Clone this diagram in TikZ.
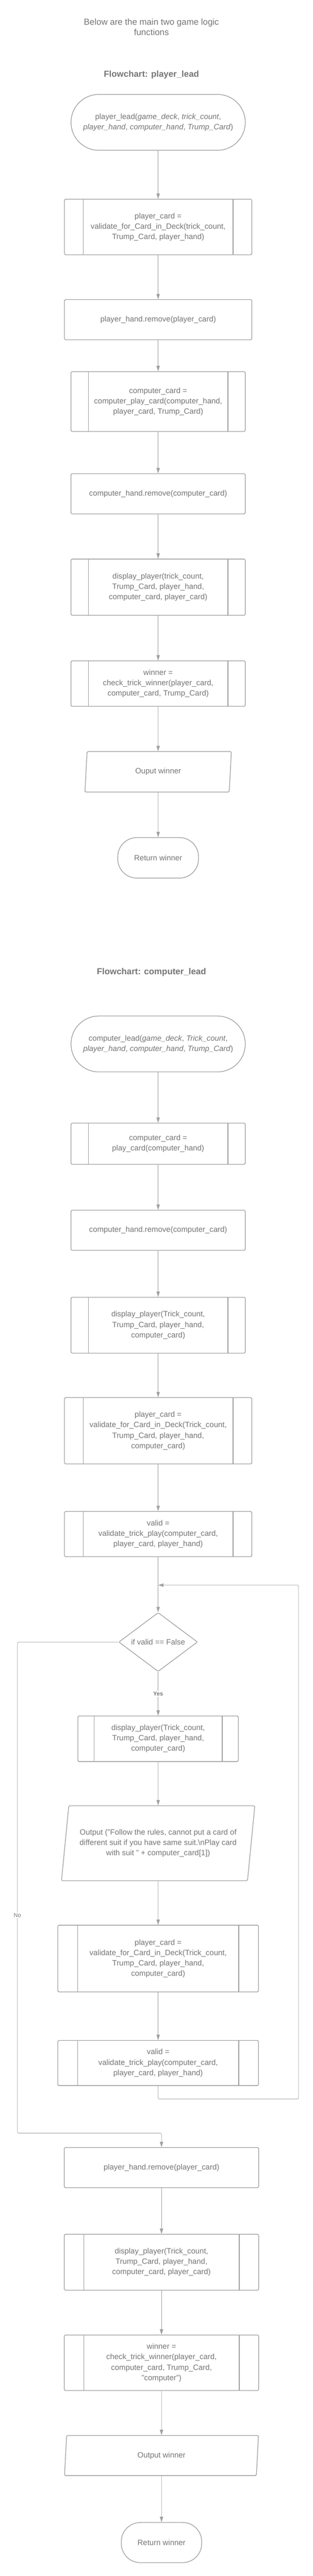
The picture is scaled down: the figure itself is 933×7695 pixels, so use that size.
\documentclass[tikz,border=0pt]{standalone}
\usepackage{fontspec}
\setmainfont{Liberation Sans}
\usepackage{xcolor}
\usetikzlibrary{shapes.geometric,arrows.meta}
\definecolor{linegray}{HTML}{A0A0A0}
\definecolor{textgray}{HTML}{757575}
\tikzset{
  shapebase/.style={draw=linegray, line width=2pt, text=textgray, fill=white, align=center,
    font=\fontsize{23}{31}\selectfont, inner sep=2pt},
  procbox/.style={shapebase, rounded corners=3pt, minimum width=520pt, minimum height=120pt},
  subproc/.style={procbox, path picture={
    \draw[draw=linegray, line width=2pt]
      ([xshift=#1]path picture bounding box.north west) -- ([xshift=#1]path picture bounding box.south west)
      ([xshift=-#1]path picture bounding box.north east) -- ([xshift=-#1]path picture bounding box.south east);}},
  subproc/.default=52pt,
  termbox/.style={shapebase, rounded corners=#1},
  iobox/.style={shapebase, trapezium, trapezium left angle=76, trapezium right angle=104,
    trapezium stretches body=true, rounded corners=3pt, inner xsep=0pt},
  decbox/.style={shapebase, diamond, aspect=1.33, rounded corners=3pt, inner sep=1pt,
    minimum width=235pt, minimum height=176pt},
  conn/.style={draw=linegray, line width=1.2pt, rounded corners=4pt, -{Triangle[length=16pt,width=10pt]}},
  titletext/.style={text=textgray, align=center, font=\fontsize{26}{31}\selectfont},
  heading/.style={text=textgray, font=\fontsize{26}{31}\selectfont\bfseries},
  lbl/.style={text=textgray, fill=white, inner sep=3pt, font=\fontsize{17}{20}\selectfont}
}
\begin{document}
\begin{tikzpicture}[x=1pt, y=-1pt]
    \useasboundingbox (0,0) rectangle (933,7695);
    \node[titletext] (intro) at (452,81) {Below are the main two game logic\\functions};
    \node[heading] (head1) at (452,224) {Flowchart: player\_lead};
    \node[termbox=83pt, minimum width=520pt, minimum height=167pt] (start1) at (472,365.5)
      {player\_lead(\textit{game\_deck}, \textit{trick\_count},\\\textit{player\_hand}, \textit{computer\_hand}, \textit{Trump\_Card})};
    \node[subproc=56pt, minimum width=559pt, minimum height=166pt] (pcard1) at (472,678)
      {player\_card =\\validate\_for\_Card\_in\_Deck(trick\_count,\\Trump\_Card, player\_hand)};
    \node[procbox, minimum width=559pt] (premove1) at (472,955) {player\_hand.remove(player\_card)};
    \node[subproc, minimum height=179pt] (ccard1) at (472,1199.5)
      {computer\_card =\\computer\_play\_card(computer\_hand,\\player\_card, Trump\_Card)};
    \node[procbox] (cremove1) at (472,1475) {computer\_hand.remove(computer\_card)};
    \node[subproc, minimum height=168pt] (disp1) at (472,1754)
      {display\_player(trick\_count,\\Trump\_Card, player\_hand,\\computer\_card, player\_card)};
    \node[subproc, minimum height=136pt] (win1) at (472,2042)
      {winner =\\check\_trick\_winner(player\_card,\\computer\_card, Trump\_Card)};
    \node[iobox, minimum width=437pt, minimum height=121pt] (out1) at (472,2305.5) {Ouput winner};
    \node[termbox=57pt, minimum width=241pt, minimum height=121pt] (ret1) at (472,2562.5) {Return winner};
    \draw[conn] (start1.south) -- (pcard1.north);
    \draw[conn] (pcard1.south) -- (premove1.north);
    \draw[conn] (premove1.south) -- (ccard1.north);
    \draw[conn] (ccard1.south) -- (cremove1.north);
    \draw[conn] (cremove1.south) -- (disp1.north);
    \draw[conn] (disp1.south) -- (win1.north);
    \draw[conn] (win1.south) -- (out1.north);
    \draw[conn] (out1.south) -- (ret1.north);
    \node[heading] (head2) at (452,2904) {Flowchart: computer\_lead};
    \node[termbox=83pt, minimum width=520pt, minimum height=167pt] (start2) at (472,3118.5)
      {computer\_lead(\textit{game\_deck}, \textit{Trick\_count},\\\textit{player\_hand}, \textit{computer\_hand}, \textit{Trump\_Card})};
    \node[subproc, minimum height=123pt] (ccard2) at (472,3416.5)
      {computer\_card =\\play\_card(computer\_hand)};
    \node[procbox] (cremove2) at (472,3675) {computer\_hand.remove(computer\_card)};
    \node[subproc, minimum height=167pt] (disp2) at (472,3958.5)
      {display\_player(Trick\_count,\\Trump\_Card, player\_hand,\\computer\_card)};
    \node[subproc=56pt, minimum width=559pt, minimum height=198pt] (pcard2) at (472,4274)
      {player\_card =\\validate\_for\_Card\_in\_Deck(Trick\_count,\\Trump\_Card, player\_hand,\\computer\_card)};
    \node[subproc=56pt, minimum width=559pt, minimum height=135pt] (valid1) at (472,4582.5)
      {valid =\\validate\_trick\_play(computer\_card,\\player\_card, player\_hand)};
    \node[decbox] (check) at (472,4905) {if valid == False};
    \node[subproc=48pt, minimum width=479pt, minimum height=136pt] (disp3) at (472,5194)
      {display\_player(Trick\_count,\\Trump\_Card, player\_hand,\\computer\_card)};
    \node[iobox, minimum width=577pt, minimum height=224pt, inner xsep=-12pt] (warn) at (472,5506)
      {Output ("Follow the rules, cannot put a card of\\different suit if you have same suit.\textbackslash nPlay card\\with suit " + computer\_card[1])};
    \node[subproc=59pt, minimum width=599pt, minimum height=199pt] (pcard3) at (472,5850.5)
      {player\_card =\\validate\_for\_Card\_in\_Deck(Trick\_count,\\Trump\_Card, player\_hand,\\computer\_card)};
    \node[subproc=59pt, minimum width=599pt, minimum height=135pt] (valid2) at (472,6162.5)
      {valid =\\validate\_trick\_play(computer\_card,\\player\_card, player\_hand)};
    \node[procbox, minimum width=580pt] (premove2) at (482,6475) {player\_hand.remove(player\_card)};
    \node[subproc=58pt, minimum width=580pt, minimum height=167pt] (disp4) at (482,6757.5)
      {display\_player(Trick\_count,\\Trump\_Card, player\_hand,\\computer\_card, player\_card)};
    \node[subproc=58pt, minimum width=580pt, minimum height=166pt] (win2) at (482,7058)
      {winner =\\check\_trick\_winner(player\_card,\\computer\_card, Trump\_Card,\\"computer")};
    \node[iobox, minimum width=579pt, minimum height=120pt] (out2) at (482,7335) {Output winner};
    \node[termbox=57pt, minimum width=240pt, minimum height=120pt] (ret2) at (482,7595) {Return winner};
    \coordinate (loopin) at (472,4735);
    \coordinate (loopcorner) at (891,6270);
    \coordinate (nocorner) at (52,6372);
    \draw[conn] (start2.south) -- (ccard2.north);
    \draw[conn] (ccard2.south) -- (cremove2.north);
    \draw[conn] (cremove2.south) -- (disp2.north);
    \draw[conn] (disp2.south) -- (pcard2.north);
    \draw[conn] (pcard2.south) -- (valid1.north);
    \draw[conn] (valid1.south) -- (check.north);
    \draw[conn] (check.south) -- node[lbl, font=\fontsize{17}{20}\selectfont\bfseries] (yes) {Yes} (disp3.north);
    \draw[conn] (disp3.south) -- (warn.north);
    \draw[conn] (warn.south) -- (pcard3.north);
    \draw[conn] (pcard3.south) -- (valid2.north);
    \draw[conn] (valid2.south) |- (loopcorner) |- (loopin);
    \draw[conn] (check.west) -| (nocorner) -| (premove2.north);
    \node[lbl] (no) at (52,5721) {No};
    \draw[conn] (premove2.south) -- (disp4.north);
    \draw[conn] (disp4.south) -- (win2.north);
    \draw[conn] (win2.south) -- (out2.north);
    \draw[conn] (out2.south) -- (ret2.north);
\end{tikzpicture}
\end{document}
